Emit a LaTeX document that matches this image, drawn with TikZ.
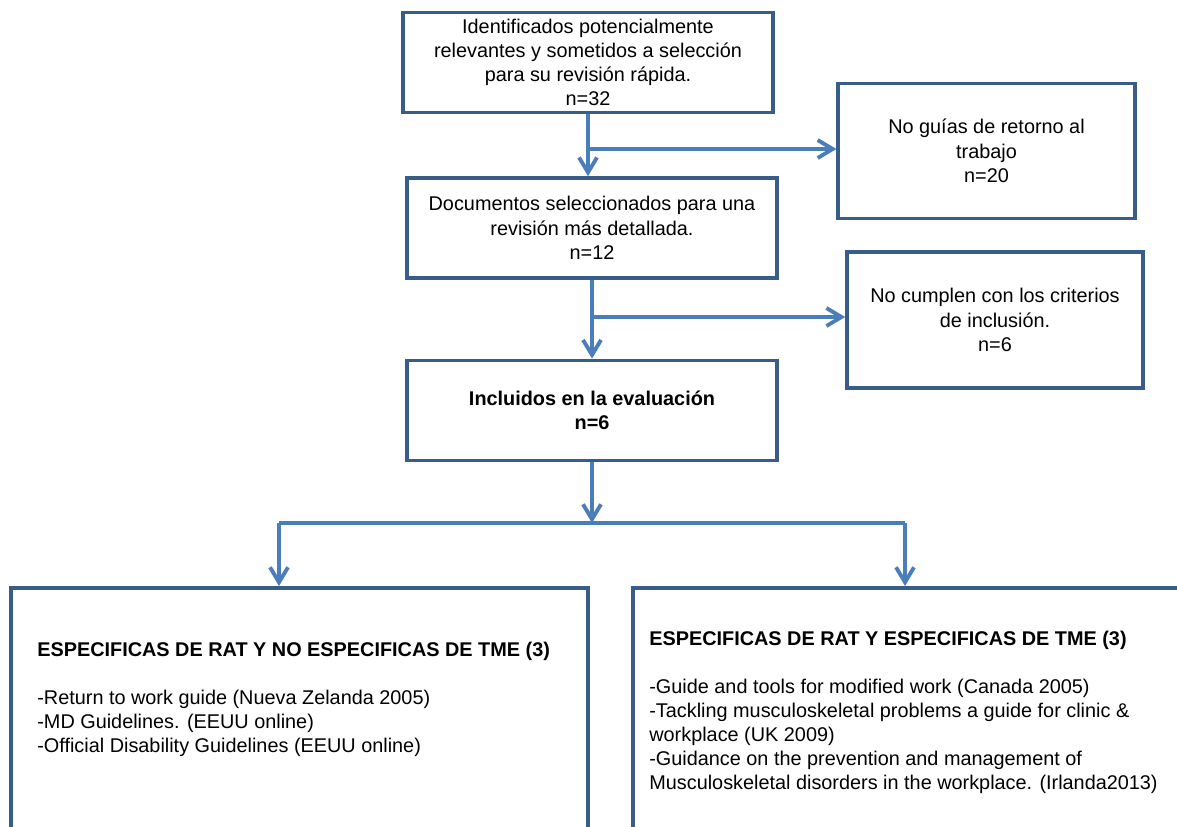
\documentclass[tikz,border=0pt]{standalone}
\usepackage{fontspec}
\setmainfont{Liberation Sans}
\usepackage{tikz}
\usetikzlibrary{arrows.meta, positioning, calc}
\usepackage{xcolor}
\definecolor{BoxBlue}{HTML}{385D8A}
\definecolor{ArrowBlue}{HTML}{4A7EBB}
\tikzset{
    % Node styles
    stagebox/.style={
        rectangle,
        draw=BoxBlue,
        fill=white,
        line width=2.1pt,
        minimum width=7.4cm,
        minimum height=2.0cm,
        align=center,
        font=\fontsize{11.3pt}{13.8pt}\selectfont
    },
    excludebox/.style={
        stagebox,
        minimum width=5.93cm,
        minimum height=2.7cm
    },
    groupbox/.style={
        rectangle,
        draw=BoxBlue,
        line width=2.1pt,
        anchor=north west,
        minimum height=6cm
    },
    listtext/.style={
        anchor=north west,
        inner sep=0pt,
        align=left,
        font=\fontsize{11.3pt}{13.7pt}\selectfont
    },
    % Arrow styles
    flowline/.style={
        ArrowBlue,
        line width=2.2pt
    },
    flowarrow/.style={
        flowline,
        -{Straight Barb[length=3.0mm,width=3.6mm]}
    }
}

\begin{document}
\begin{tikzpicture}[x=0.02cm, y=-0.02cm]
    \useasboundingbox (0,0) rectangle (1177,826);
    \clip (0,0) rectangle (1177,826);

    % Main column
    \node[stagebox] (ident) at (588,62.5) {Identificados potencialmente\\relevantes y sometidos a selección\\para su revisión rápida.\\n=32};
    \node[stagebox] (selec) at (592,228) {Documentos seleccionados para una\\revisión más detallada.\\n=12};
    \node[stagebox, font=\fontsize{11.3pt}{13.8pt}\selectfont\bfseries] (incl) at (592,410.5) {Incluidos en la evaluación\\n=6};

    % Excluded
    \node[excludebox] (noguia) at (986.5,151) {No guías de retorno al\\trabajo\\n=20};
    \node[excludebox, minimum width=5.92cm, minimum height=2.72cm] (nocrit) at (995,320) {No cumplen con los criterios\\de inclusión.\\n=6};

    % Groups
    \node[groupbox, minimum width=11.54cm] (grpa) at (9,586) {};
    \node[groupbox, minimum width=12cm] (grpb) at (631,586) {};

    \node[listtext] (lista) at (37,641.5) {\textbf{ESPECIFICAS DE RAT Y NO ESPECIFICAS DE TME (3)}\\[13.7pt]
        -Return to work guide (Nueva Zelanda 2005)\\
        -MD Guidelines. (EEUU online)\\
        -Official Disability Guidelines (EEUU online)};
    \node[listtext] (listb) at (649,630.5) {\textbf{ESPECIFICAS DE RAT Y ESPECIFICAS DE TME (3)}\\[13.7pt]
        -Guide and tools for modified work (Canada 2005)\\
        -Tackling musculoskeletal problems a guide for clinic \&\\
        workplace (UK 2009)\\
        -Guidance on the prevention and management of\\
        Musculoskeletal disorders in the workplace. (Irlanda2013)};

    % Arrows
    \coordinate (j1) at (588,149);
    \coordinate (j2) at (592,317);
    \coordinate (split) at (592,523);
    \coordinate (splitl) at (279,523);
    \coordinate (splitr) at (905,523);

    \draw[flowarrow] (ident.south) -- (ident.south |- selec.north);
    \draw[flowarrow] (j1) -- (j1 -| noguia.west);
    \draw[flowarrow] (selec.south) -- (selec.south |- incl.north);
    \draw[flowarrow] (j2) -- (j2 -| nocrit.west);
    \draw[flowarrow] (incl.south) -- (split);
    \draw[flowline] (splitl) -- (splitr);
    \draw[flowarrow] (splitl) -- (splitl |- grpa.north);
    \draw[flowarrow] (splitr) -- (splitr |- grpb.north);
\end{tikzpicture}
\end{document}
